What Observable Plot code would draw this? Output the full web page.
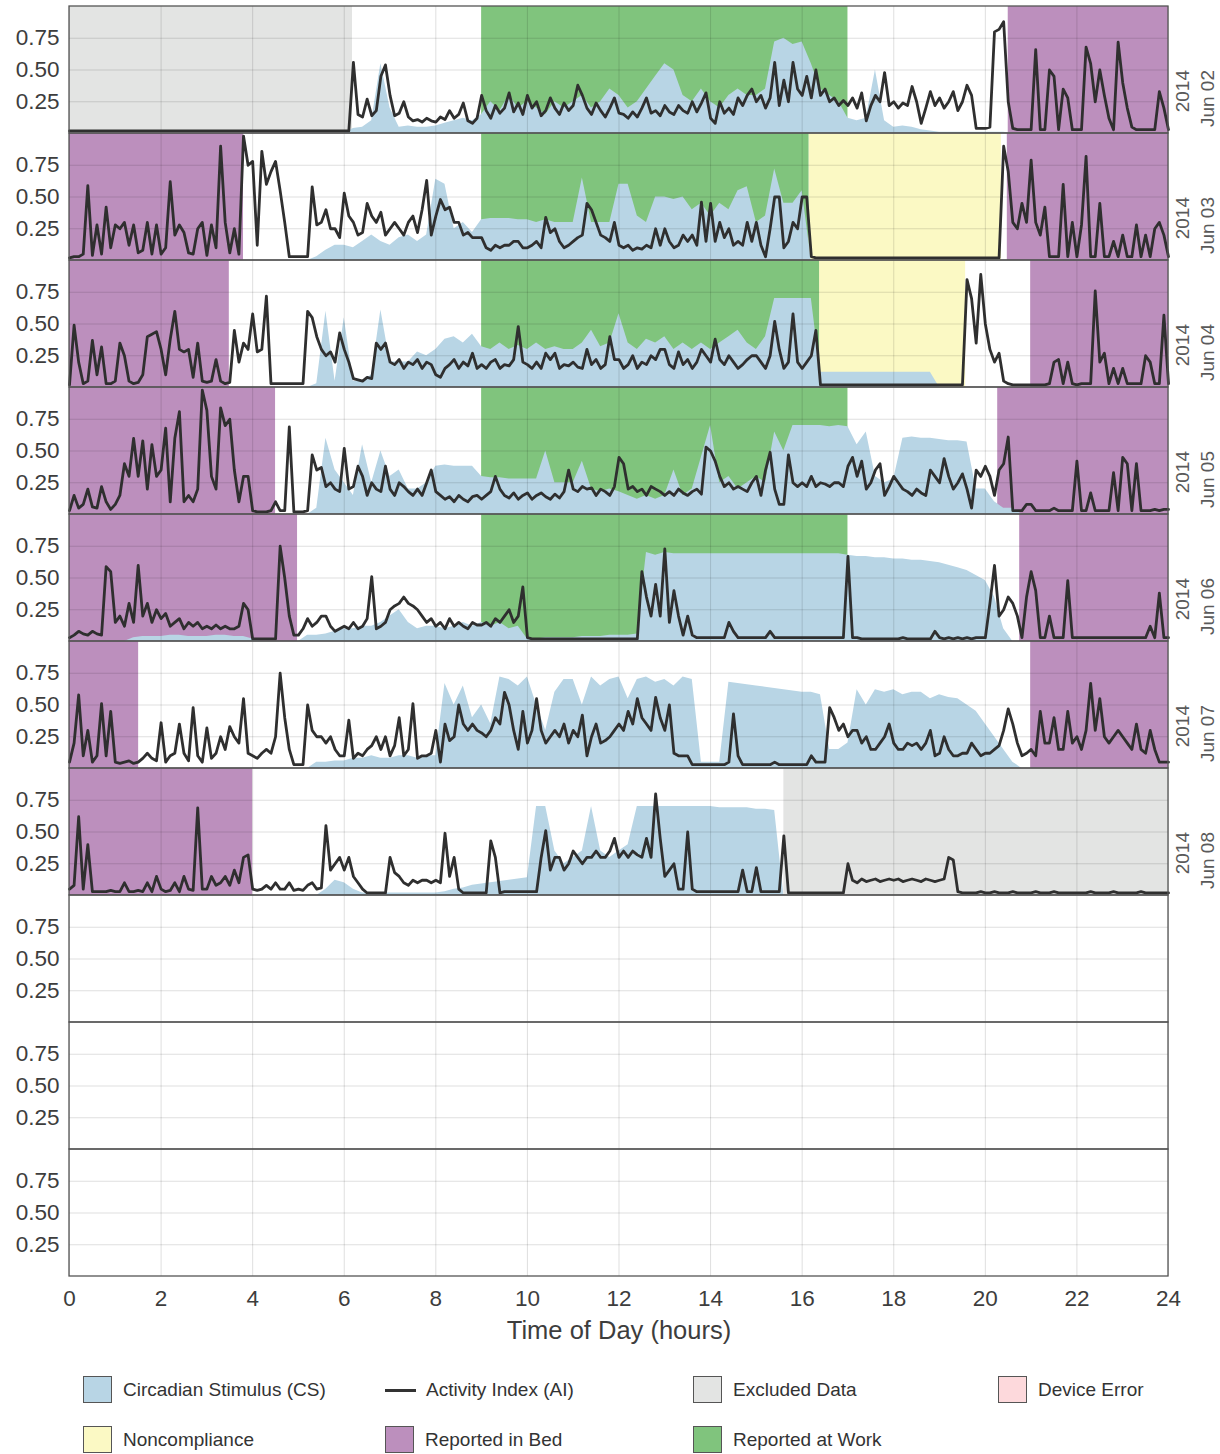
<!DOCTYPE html>
<html><head><meta charset="utf-8">
<script src="https://cdn.jsdelivr.net/npm/d3@7"></script>
<script src="https://cdn.jsdelivr.net/npm/@observablehq/plot@0.6"></script>
<style>
body{margin:0;background:#fff;font-family:"Liberation Sans",Arial,sans-serif;}
#wrap{position:relative;width:1220px;height:1454px;overflow:hidden;}
#chart{position:absolute;left:0;top:0;}
.sw{position:absolute;width:27px;height:25px;border:1.5px solid #555;box-sizing:content-box;}
.ln{position:absolute;width:31px;height:3px;background:#333;}
.lab{position:absolute;font-size:19px;color:#333;line-height:19px;white-space:nowrap;}
</style></head><body><div id="wrap"><div id="chart"></div></div>
<script>
// ---------- data ----------
const days = ["Jun 02","Jun 03","Jun 04","Jun 05","Jun 06","Jun 07","Jun 08"];
const blankRows = ["blank 1","blank 2","blank 3"];
const xTicks = [0,2,4,6,8,10,12,14,16,18,20,22,24];
const yTicks = [0.25,0.5,0.75];
const AI_STEP = 0.1; // hours between AI samples
const CS_STEP = 0.2; // hours between CS samples

// Activity Index (AI), one value every 0.1 h from 0 to 24 (one row of 10 per hour)
const aiJun02 = [
.02,.02,.02,.02,.02,.02,.02,.02,.02,.02,
.02,.02,.02,.02,.02,.02,.02,.02,.02,.02,
.02,.02,.02,.02,.02,.02,.02,.02,.02,.02,
.02,.02,.02,.02,.02,.02,.02,.02,.02,.02,
.02,.02,.02,.02,.02,.02,.02,.02,.02,.02,
.02,.02,.02,.02,.02,.02,.02,.02,.02,.02,
.02,.02,.56,.15,.13,.27,.14,.18,.45,.54,
.30,.14,.16,.25,.13,.10,.11,.09,.12,.10,
.09,.13,.11,.18,.12,.15,.24,.10,.08,.12,
.30,.18,.12,.22,.16,.20,.32,.17,.24,.15,
.30,.20,.25,.14,.18,.28,.20,.15,.24,.18,
.22,.38,.30,.20,.15,.24,.18,.13,.20,.28,
.16,.15,.12,.17,.13,.20,.28,.16,.18,.14,
.22,.17,.15,.22,.18,.16,.25,.17,.24,.32,
.12,.08,.25,.16,.20,.15,.28,.22,.30,.35,
.25,.30,.20,.28,.56,.22,.42,.25,.56,.35,
.30,.45,.28,.50,.30,.35,.25,.28,.22,.26,
.22,.28,.20,.32,.10,.22,.30,.25,.48,.22,
.25,.20,.24,.22,.37,.25,.08,.20,.33,.22,
.28,.20,.25,.33,.18,.25,.38,.30,.04,.04,
.04,.05,.80,.82,.88,.25,.04,.03,.03,.03,
.03,.66,.03,.03,.50,.45,.03,.35,.28,.03,
.03,.03,.68,.55,.25,.50,.30,.12,.03,.72,
.40,.20,.05,.03,.03,.03,.03,.03,.33,.20,
.03];
const aiJun03 = [
.02,.03,.03,.05,.59,.04,.28,.05,.42,.10,
.28,.25,.30,.12,.28,.06,.08,.30,.05,.28,
.05,.10,.62,.20,.28,.22,.06,.05,.25,.30,
.04,.28,.10,.90,.30,.06,.25,.05,.98,.75,
.78,.12,.86,.60,.70,.78,.55,.30,.03,.03,
.03,.03,.03,.58,.28,.30,.40,.25,.25,.18,
.53,.35,.30,.20,.22,.45,.35,.30,.38,.20,
.25,.30,.25,.20,.30,.35,.22,.40,.63,.20,
.35,.48,.40,.42,.30,.30,.20,.22,.18,.18,
.18,.10,.08,.12,.10,.12,.12,.15,.15,.10,
.10,.12,.15,.10,.34,.22,.25,.15,.10,.12,
.15,.18,.20,.45,.40,.30,.20,.18,.15,.30,
.12,.10,.12,.08,.10,.09,.12,.10,.25,.12,
.25,.15,.10,.12,.20,.15,.20,.12,.46,.15,
.45,.15,.30,.18,.25,.12,.15,.12,.30,.15,
.30,.12,.03,.25,.50,.50,.10,.15,.30,.25,
.50,.50,.03,.02,.02,.02,.02,.02,.02,.02,
.02,.02,.02,.02,.02,.02,.02,.02,.02,.02,
.02,.02,.02,.02,.02,.02,.02,.02,.02,.02,
.02,.02,.02,.02,.02,.02,.02,.02,.02,.02,
.02,.02,.02,.02,.90,.70,.30,.25,.45,.30,
.79,.30,.20,.42,.03,.03,.03,.60,.03,.30,
.03,.28,.82,.03,.03,.45,.03,.03,.15,.03,
.20,.03,.03,.28,.03,.20,.03,.25,.30,.20,
.03];
const aiJun04 = [
.02,.49,.20,.03,.05,.37,.10,.32,.03,.03,
.05,.35,.25,.05,.03,.04,.10,.40,.42,.44,
.30,.10,.38,.60,.30,.28,.30,.08,.35,.05,
.04,.05,.22,.05,.03,.04,.45,.20,.35,.30,
.58,.28,.30,.72,.03,.03,.03,.03,.03,.03,
.03,.03,.60,.55,.40,.30,.25,.28,.20,.43,
.30,.20,.07,.06,.05,.08,.07,.35,.30,.35,
.20,.18,.22,.15,.20,.18,.22,.15,.20,.18,
.10,.08,.15,.18,.22,.15,.20,.17,.27,.15,
.18,.15,.20,.22,.15,.18,.17,.22,.48,.20,
.18,.15,.20,.15,.27,.22,.27,.15,.18,.17,
.20,.16,.15,.30,.18,.22,.15,.18,.40,.22,
.22,.15,.18,.25,.15,.20,.18,.25,.22,.30,
.30,.18,.15,.28,.18,.22,.15,.20,.30,.25,
.20,.38,.22,.18,.25,.20,.15,.18,.22,.25,
.25,.20,.15,.25,.52,.30,.15,.20,.58,.20,
.15,.20,.25,.45,.02,.02,.02,.02,.02,.02,
.02,.02,.02,.02,.02,.02,.02,.02,.02,.02,
.02,.02,.02,.02,.02,.02,.02,.02,.02,.02,
.02,.02,.02,.02,.02,.02,.85,.70,.35,.89,
.50,.30,.20,.27,.05,.03,.02,.02,.02,.02,
.02,.02,.02,.02,.03,.20,.22,.03,.20,.03,
.02,.03,.03,.03,.76,.20,.27,.03,.15,.03,
.15,.03,.03,.03,.03,.25,.20,.03,.03,.57,
.03];
const aiJun05 = [
.03,.15,.05,.08,.20,.06,.05,.22,.10,.04,
.08,.15,.40,.30,.60,.30,.58,.20,.55,.30,
.35,.68,.10,.60,.81,.10,.15,.10,.20,.98,
.82,.30,.20,.84,.70,.75,.35,.10,.30,.30,
.03,.02,.02,.02,.03,.10,.03,.03,.69,.02,
.02,.02,.03,.47,.35,.37,.22,.25,.20,.18,
.52,.20,.22,.38,.30,.15,.25,.20,.18,.38,
.20,.15,.25,.22,.18,.15,.20,.15,.25,.35,
.18,.15,.12,.14,.10,.15,.12,.10,.14,.15,
.12,.15,.18,.30,.20,.15,.13,.17,.12,.15,
.17,.12,.15,.17,.14,.12,.16,.13,.18,.35,
.20,.18,.22,.20,.21,.15,.20,.18,.15,.22,
.45,.40,.20,.22,.18,.20,.15,.22,.20,.18,
.15,.18,.15,.20,.17,.15,.18,.20,.16,.53,
.50,.42,.30,.22,.25,.20,.22,.20,.18,.25,
.30,.15,.35,.49,.20,.08,.08,.47,.25,.22,
.25,.22,.30,.22,.25,.24,.22,.25,.25,.22,
.38,.45,.30,.42,.20,.25,.35,.40,.15,.22,
.30,.25,.20,.18,.15,.20,.17,.15,.35,.30,
.25,.44,.30,.20,.25,.32,.20,.05,.35,.30,
.38,.30,.15,.35,.40,.61,.03,.03,.03,.08,
.08,.03,.03,.03,.03,.05,.03,.03,.03,.03,
.42,.03,.03,.17,.03,.03,.03,.03,.33,.03,
.45,.40,.03,.40,.03,.03,.03,.04,.03,.04,
.04];
const aiJun06 = [
.03,.05,.08,.06,.05,.08,.06,.05,.59,.55,
.15,.20,.12,.30,.15,.60,.20,.30,.15,.25,
.18,.22,.12,.15,.18,.10,.15,.12,.15,.10,
.12,.10,.13,.10,.12,.10,.10,.12,.30,.25,
.02,.02,.02,.02,.02,.02,.75,.50,.20,.05,
.05,.10,.18,.12,.15,.20,.20,.12,.08,.10,
.12,.10,.15,.10,.12,.18,.51,.10,.12,.15,
.25,.28,.30,.35,.30,.28,.25,.20,.15,.18,
.12,.15,.10,.18,.12,.15,.12,.10,.15,.13,
.13,.15,.12,.18,.15,.20,.25,.15,.20,.43,
.03,.02,.02,.02,.02,.02,.02,.02,.02,.02,
.02,.02,.02,.02,.02,.02,.02,.02,.02,.02,
.02,.02,.02,.02,.02,.55,.35,.20,.45,.20,
.73,.15,.40,.20,.05,.20,.05,.03,.03,.03,
.03,.03,.03,.03,.15,.08,.03,.03,.03,.03,
.03,.03,.03,.08,.03,.03,.03,.03,.03,.03,
.03,.03,.03,.03,.03,.03,.03,.03,.03,.03,
.67,.03,.03,.02,.02,.02,.02,.02,.02,.02,
.02,.02,.03,.02,.02,.02,.02,.02,.02,.08,
.03,.02,.03,.02,.03,.02,.03,.02,.03,.03,
.03,.30,.60,.20,.25,.35,.30,.20,.03,.35,
.55,.40,.03,.03,.20,.03,.03,.03,.48,.03,
.03,.03,.03,.03,.03,.03,.03,.03,.03,.03,
.03,.03,.03,.03,.03,.03,.12,.03,.38,.03,
.03];
const aiJun07 = [
.05,.20,.58,.10,.30,.05,.10,.51,.10,.45,
.05,.04,.05,.06,.04,.05,.08,.12,.08,.06,
.36,.05,.10,.12,.35,.12,.06,.48,.10,.05,
.32,.08,.12,.25,.15,.33,.25,.20,.55,.12,
.10,.08,.12,.15,.12,.25,.75,.40,.15,.03,
.03,.03,.50,.30,.25,.25,.20,.25,.15,.10,
.10,.38,.08,.12,.10,.15,.18,.25,.15,.25,
.10,.18,.40,.10,.15,.51,.08,.10,.10,.12,
.30,.05,.35,.22,.25,.50,.35,.30,.35,.30,
.28,.25,.30,.40,.35,.60,.50,.30,.15,.45,
.20,.30,.55,.30,.20,.25,.30,.25,.35,.20,
.30,.25,.42,.10,.25,.35,.20,.22,.25,.30,
.35,.30,.45,.35,.55,.40,.35,.30,.56,.40,
.30,.50,.12,.10,.10,.10,.03,.03,.03,.03,
.03,.03,.03,.03,.05,.43,.10,.03,.03,.03,
.03,.03,.03,.03,.05,.03,.03,.03,.03,.03,
.03,.03,.10,.05,.05,.05,.48,.40,.30,.35,
.25,.30,.30,.20,.25,.15,.15,.20,.25,.35,
.20,.15,.15,.20,.18,.20,.15,.20,.30,.10,
.12,.25,.15,.10,.10,.12,.12,.20,.15,.10,
.12,.12,.15,.18,.30,.47,.35,.20,.10,.12,
.15,.10,.45,.20,.20,.40,.15,.15,.45,.20,
.25,.15,.30,.67,.30,.55,.25,.20,.25,.30,
.25,.20,.15,.35,.15,.12,.30,.15,.05,.05,
.05];
const aiJun08 = [
.05,.08,.62,.05,.40,.03,.03,.03,.03,.04,
.03,.03,.10,.03,.03,.04,.03,.10,.03,.15,
.05,.03,.04,.10,.03,.15,.05,.04,.69,.05,
.05,.15,.08,.10,.15,.08,.20,.10,.30,.32,
.05,.04,.05,.08,.05,.10,.05,.05,.10,.04,
.05,.04,.08,.10,.05,.06,.55,.20,.25,.30,
.20,.30,.15,.10,.05,.02,.02,.02,.02,.02,
.30,.18,.15,.10,.08,.12,.10,.12,.12,.10,
.12,.10,.49,.15,.30,.05,.02,.02,.02,.02,
.02,.02,.43,.30,.02,.03,.03,.03,.03,.03,
.03,.03,.03,.30,.51,.20,.30,.30,.20,.25,
.35,.30,.25,.30,.30,.35,.30,.30,.35,.45,
.30,.35,.30,.35,.32,.30,.45,.30,.80,.45,
.15,.20,.25,.05,.05,.50,.05,.03,.03,.03,
.03,.03,.03,.03,.03,.03,.03,.20,.03,.03,
.22,.03,.03,.03,.03,.03,.47,.02,.02,.02,
.02,.02,.02,.02,.02,.02,.02,.02,.02,.02,
.25,.12,.10,.13,.11,.12,.13,.11,.12,.13,
.12,.13,.11,.12,.13,.12,.11,.13,.12,.11,
.12,.13,.30,.28,.03,.02,.02,.02,.02,.03,
.02,.02,.03,.02,.02,.02,.03,.02,.02,.02,
.02,.03,.02,.02,.02,.03,.02,.02,.02,.02,
.02,.02,.02,.03,.02,.02,.02,.02,.03,.02,
.02,.02,.02,.02,.03,.02,.02,.02,.02,.02,
.02];

// Circadian Stimulus (CS), one value every 0.2 h from 0 to 24
const csJun02 = [
0,0,0,0,0, 0,0,0,0,0, 0,0,0,0,0, 0,0,0,0,0, 0,0,0,0,0, 0,0,0,0,0,
0,.04,.05,.10,.55, .20,.05,.06,.05,.05, .06,.08,.10,.12,.10, .15,.25,.18,.30,.20, .25,.20,.15,.25,.20, .25,.30,.20,.25,.35,
.30,.20,.25,.35,.45, .55,.50,.30,.25,.35, .25,.20,.30,.35,.30, .30,.35,.72,.75,.70, .72,.55,.35,.30,.25, .12,.10,.12,.50,.10,
.05,.06,.05,.03,.02, .01,.01,.01,.01,.01, .01,.01,.01,0,0, 0,0,0,0,0, 0,0,0,0,0, 0,0,0,0,0, 0];
const csJun03 = [
0,0,0,0,0, 0,0,0,0,0, 0,0,0,0,0, 0,0,0,0,0, 0,0,0,0,0, 0,0,.03,.08,.12,
.12,.10,.15,.20,.15, .12,.18,.20,.15,.20, .64,.60,.25,.30,.22, .32,.33,.33,.33,.32, .32,.30,.32,.30,.30, .30,.65,.30,.30,.30,
.60,.60,.35,.30,.50, .50,.48,.50,.40,.45, .35,.45,.40,.55,.58, .30,.35,.72,.45,.45, .55,0,0,0,0, 0,0,0,0,0,
0,0,0,0,0, 0,0,0,0,0, 0,0,0,0,0, 0,0,0,0,0, 0,0,0,0,0, 0,0,0,0,0, 0];
const csJun04 = [
0,0,0,0,0, 0,0,0,0,0, 0,0,0,0,0, 0,0,0,0,0, 0,0,0,0,0, 0,0,.03,.60,.05,
.55,.05,.05,.10,.61, .20,.20,.20,.28,.25, .30,.38,.40,.35,.42, .32,.30,.35,.30,.33, .30,.35,.30,.32,.30, .30,.35,.45,.32,.35,
.58,.35,.30,.38,.35, .40,.30,.35,.30,.35, .30,.35,.40,.45,.35, .30,.40,.70,.70,.70, .70,.70,.12,.12,.12, .12,.12,.12,.12,.12,
.12,.12,.12,.12,.12, 0,0,0,0,0, 0,0,0,0,0, 0,0,0,0,0, 0,0,0,0,0, 0,0,0,0,0, 0];
const csJun05 = [
0,0,0,0,0, 0,0,0,0,0, 0,0,0,0,0, 0,0,0,0,0, 0,0,0,0,0, 0,0,.05,.60,.35,
.25,.15,.55,.25,.50, .30,.35,.20,.20,.25, .38,.39,.38,.38,.38, .30,.29,.29,.28,.28, .28,.28,.50,.25,.25, .25,.42,.20,.18,.20,
.18,.15,.12,.15,.12, .15,.35,.15,.20,.45, .70,.25,.30,.20,.25, .30,.25,.65,.50,.70, .70,.70,.70,.69,.70, .69,.55,.65,.30,.25,
.28,.60,.61,.60,.60, .59,.58,.58,.57,.20, .20,.10,.05,.05,0, 0,0,0,0,0, 0,0,0,0,0, 0,0,0,0,0, 0];
const csJun06 = [
0,0,0,0,0, 0,0,.03,.04,.04, .04,.05,.05,.04,.04, .04,.05,.05,.04,.04, .02,0,0,0,0, 0,.05,.05,.06,.08,
.10,.10,.12,.12,.15, .20,.25,.15,.10,.12, .12,.10,.12,.15,.12, .15,.12,.15,.10,.12, .02,.02,.03,.03,.03, .03,.04,.04,.04,.05,
.05,.05,.06,.70,.68, .70,.69,.69,.69,.69, .69,.69,.69,.69,.69, .69,.69,.69,.69,.69, .69,.69,.69,.69,.69, .68,.67,.67,.66,.66,
.65,.65,.64,.64,.63, .62,.60,.58,.56,.52, .48,.35,.10,0,0, 0,0,0,0,0, 0,0,0,0,0, 0,0,0,0,0, 0];
const csJun07 = [
0,0,0,0,0, 0,0,0,0,0, 0,0,0,0,0, 0,0,0,0,0, 0,0,0,0,0, 0,0,.05,.05,.06,
.06,.08,.08,.10,.08, .08,.10,.10,.08,.10, .10,.67,.50,.65,.40, .50,.35,.72,.70,.65, .72,.50,.30,.60,.70, .70,.50,.72,.65,.70,
.72,.55,.70,.72,.68, .70,.65,.72,.70,.05, .05,.05,.68,.67,.66, .65,.64,.63,.62,.61, .60,.60,.58,.15,.15, .20,.62,.50,.62,.60,
.62,.58,.60,.60,.55, .58,.56,.55,.50,.45, .35,.25,.15,.05,0, 0,0,0,0,0, 0,0,0,0,0, 0,0,0,0,0, 0];
const csJun08 = [
0,0,0,0,0, 0,0,0,0,0, 0,0,0,0,0, 0,0,0,0,0, 0,0,0,0,0, 0,0,0,.05,.12,
.10,.05,.02,.02,.02, .02,.02,.02,.02,.02, .02,.03,.05,.06,.08, .09,.10,.11,.12,.13, .14,.70,.70,.35,.25, .30,.35,.70,.35,.30,
.35,.40,.70,.70,.70, .70,.70,.70,.70,.70, .70,.69,.69,.69,.69, .68,.68,.67,0,0, 0,0,0,0,0, 0,0,0,0,0,
0,0,0,0,0, 0,0,0,0,0, 0,0,0,0,0, 0,0,0,0,0, 0,0,0,0,0, 0,0,0,0,0, 0];

// shaded periods (hours)
const excludedPeriods = [{day:"Jun 02",start:0,end:6.18},{day:"Jun 08",start:15.6,end:24}];
const noncompliancePeriods = [{day:"Jun 03",start:16.15,end:20.35},{day:"Jun 04",start:16.38,end:19.57}];
const bedPeriods = [
  {day:"Jun 02",start:20.5,end:24},
  {day:"Jun 03",start:0,end:3.8},{day:"Jun 03",start:20.48,end:24},
  {day:"Jun 04",start:0,end:3.49},{day:"Jun 04",start:20.99,end:24},
  {day:"Jun 05",start:0,end:4.5},{day:"Jun 05",start:20.27,end:24},
  {day:"Jun 06",start:0,end:4.98},{day:"Jun 06",start:20.75,end:24},
  {day:"Jun 07",start:0,end:1.51},{day:"Jun 07",start:20.99,end:24},
  {day:"Jun 08",start:0,end:4.0}];
const workPeriods = [
  {day:"Jun 02",start:9,end:17},{day:"Jun 03",start:9,end:16.15},{day:"Jun 04",start:9,end:16.38},
  {day:"Jun 05",start:9,end:17},{day:"Jun 06",start:9,end:17}];

const legendItems = [
  {label:"Circadian Stimulus (CS)", color:"#b8d5e5", kind:"swatch"},
  {label:"Activity Index (AI)", color:"#333333", kind:"line"},
  {label:"Excluded Data", color:"#e3e4e3", kind:"swatch"},
  {label:"Device Error", color:"#fdd9dc", kind:"swatch"},
  {label:"Noncompliance", color:"#fbf9c4", kind:"swatch"},
  {label:"Reported in Bed", color:"#bc8fbd", kind:"swatch"},
  {label:"Reported at Work", color:"#80c47d", kind:"swatch"}];

// ---------- build tables ----------
const aiSeries = [aiJun02,aiJun03,aiJun04,aiJun05,aiJun06,aiJun07,aiJun08];
const csSeries = [csJun02,csJun03,csJun04,csJun05,csJun06,csJun07,csJun08];
const toRows = (day, arr, step) => arr.map((v,i) => ({day, t: Math.round(i*step*100)/100, v}));
const aiData = days.flatMap((d,k) => toRows(d, aiSeries[k], AI_STEP));
const csData = days.flatMap((d,k) => toRows(d, csSeries[k], CS_STEP));
const allRows = [...days, ...blankRows];
const frameRows = allRows.map(day => ({day}));
const dayLabels = days.map(day => ({day, label: "2014\n" + day}));
const colorOf = Object.fromEntries(legendItems.map(d => [d.label, d.color]));

const font = '"Liberation Sans", Arial, sans-serif';
const chart = Plot.plot({
  width: 1220, height: 1355,
  marginLeft: 69, marginRight: 52, marginTop: 5, marginBottom: 78,
  style: {fontFamily: font, fontSize: "22.5px", color: "#3d3d3d", background: "#fff", overflow: "visible"},
  x: {domain: [0,24], ticks: xTicks, tickSize: 0, tickPadding: 14, label: "Time of Day (hours)", labelAnchor: "center", labelOffset: 62, labelArrow: "none"},
  y: {domain: [0,1], ticks: yTicks, tickFormat: d3.format(".2f"), tickSize: 0, tickPadding: 10, label: null},
  fy: {domain: allRows, padding: 0, axis: null, label: null},
  marks: [
    Plot.rect(excludedPeriods, {x1:"start", x2:"end", y1:0, y2:1, fy:"day", fill: colorOf["Excluded Data"]}),
    Plot.rect(noncompliancePeriods, {x1:"start", x2:"end", y1:0, y2:1, fy:"day", fill: colorOf["Noncompliance"]}),
    Plot.rect(bedPeriods, {x1:"start", x2:"end", y1:0, y2:1, fy:"day", fill: colorOf["Reported in Bed"]}),
    Plot.rect(workPeriods, {x1:"start", x2:"end", y1:0, y2:1, fy:"day", fill: colorOf["Reported at Work"]}),
    Plot.areaY(csData, {x:"t", y:"v", fy:"day", fill: colorOf["Circadian Stimulus (CS)"]}),
    Plot.ruleX(xTicks, {stroke:"#000", strokeOpacity:0.13, strokeWidth:1}),
    Plot.ruleY(yTicks, {stroke:"#000", strokeOpacity:0.13, strokeWidth:1}),
    Plot.line(aiData, {x:"t", y:"v", fy:"day", stroke:"#2f2f2f", strokeWidth:2.8, strokeLinejoin:"round"}),
    Plot.rect(frameRows, {x1:0, x2:24, y1:0, y2:1, fy:"day", fill:"none", stroke:"#555", strokeWidth:1.3}),
    Plot.text(dayLabels, {fy:"day", text:"label", frameAnchor:"right", rotate:-90, dx:25, fontSize:19, fill:"#5a5a5a", lineHeight:1.3})
  ]
});
chart.querySelectorAll("text").forEach(t => {
  if (t.textContent.startsWith("Time of Day")) { t.style.fontSize = "25.5px"; }
});
document.getElementById("chart").appendChild(chart);

// ---------- legend (HTML) ----------
const wrap = document.getElementById("wrap");
const colX = [83, 385, 693, 998];
const rowY = [1390, 1440];
legendItems.forEach((d, i) => {
  const cx = colX[i % 4], cy = rowY[Math.floor(i / 4)];
  const m = document.createElement("div");
  if (d.kind === "line") {
    m.className = "ln"; m.style.left = cx + "px"; m.style.top = (cy - 1.5) + "px"; m.style.background = d.color;
  } else {
    m.className = "sw"; m.style.left = cx + "px"; m.style.top = (cy - 14) + "px"; m.style.background = d.color;
  }
  wrap.appendChild(m);
  const t = document.createElement("div");
  t.className = "lab"; t.textContent = d.label;
  t.style.left = (cx + (d.kind === "line" ? 41 : 40)) + "px"; t.style.top = (cy - 10) + "px";
  wrap.appendChild(t);
});
</script></body></html>
